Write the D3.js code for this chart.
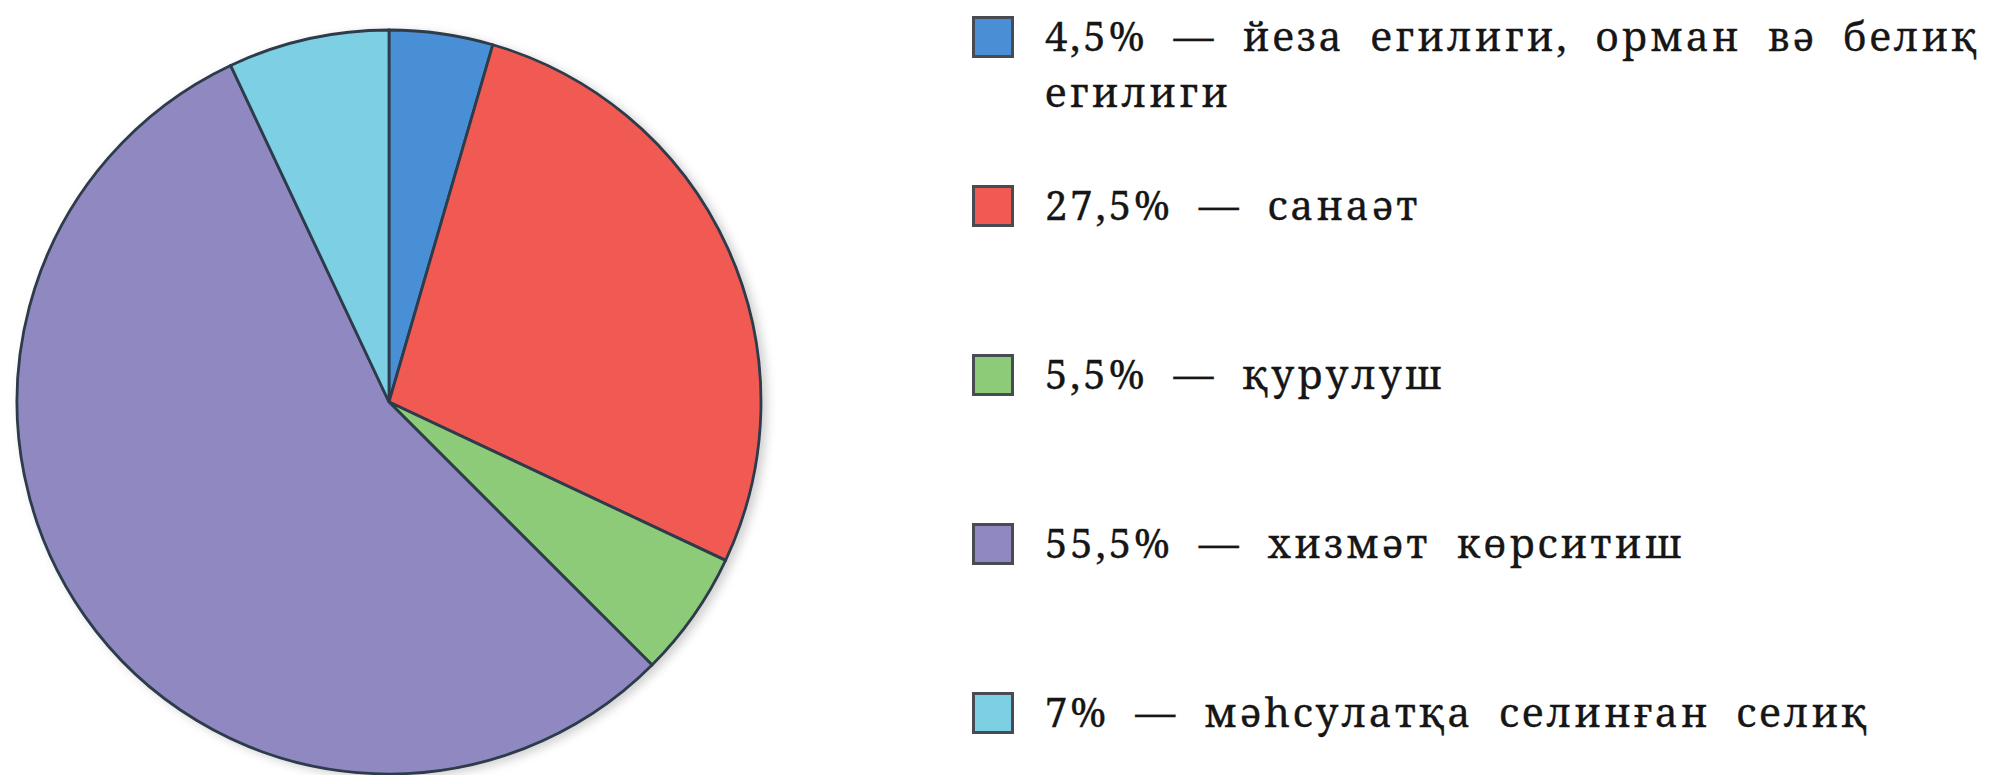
<!DOCTYPE html>
<html>
<head>
<meta charset="utf-8">
<script src="https://cdn.jsdelivr.net/npm/d3@7"></script>
<style>
  html, body { margin: 0; padding: 0; background: #ffffff; }
  svg { display: block; }
</style>
</head>
<body>
<svg id="chart" width="2001" height="775"></svg>
<script>
// Sector shares of the economy, percent
const shares = [4.5, 27.5, 5.5, 55.5, 7];
const shareLabels = ["4,5%", "27,5%", "5,5%", "55,5%", "7%"];
const sectorNames = [
  ["йеза егилиги, орман вә белиқ", "егилиги"],
  ["санаәт"],
  ["қурулуш"],
  ["хизмәт көрситиш"],
  ["мәһсулатқа селинған селиқ"]
];
const sectorColors = ["#4a8fd6", "#f05a52", "#8ecb79", "#8f88c1", "#7dcfe4"];

const svg = d3.select("#chart");
const fontSize = 40, tracking = 3;

// ---- pie ----
const cx = 389, cy = 402, radius = 372;

const defs = svg.append("defs");
const shadow = defs.append("filter").attr("id", "soft-shadow")
  .attr("x", "-10%").attr("y", "-10%").attr("width", "120%").attr("height", "120%");
shadow.append("feDropShadow")
  .attr("dx", 5).attr("dy", 3).attr("stdDeviation", 5)
  .attr("flood-color", "#000").attr("flood-opacity", 0.18);

const pie = d3.pie().sort(null).value(d => d);
const arc = d3.arc().innerRadius(0).outerRadius(radius);
const color = d3.scaleOrdinal().domain(d3.range(shares.length)).range(sectorColors);

const pieG = svg.append("g")
  .attr("transform", `translate(${cx},${cy})`)
  .attr("filter", "url(#soft-shadow)");

pieG.selectAll("path")
  .data(pie(shares))
  .join("path")
  .attr("d", arc)
  .attr("fill", (d, i) => color(i))
  .attr("stroke", "#2d3b4c")
  .attr("stroke-width", 2.8)
  .attr("stroke-linejoin", "round");

// ---- legend ----
const legendX = 972, textX = 1045, firstLineEnd = 1980;
const rowY = d3.scalePoint().domain(d3.range(shares.length)).range([37, 713]);
const lineGap = 56, box = 42;

const legend = svg.append("g").attr("class", "legend");

const rows = legend.selectAll("g.row")
  .data(shares.map((v, i) => i))
  .join("g").attr("class", "row")
  .attr("transform", i => `translate(0,${rowY(i)})`);

rows.append("rect")
  .attr("x", legendX + 1.5)
  .attr("y", -box / 2 + 1.5)
  .attr("width", box - 3)
  .attr("height", box - 3)
  .attr("fill", i => color(i))
  .attr("stroke", "#484c52")
  .attr("stroke-width", 3);

const texts = [];
rows.each(function (i) {
  const g = d3.select(this);
  sectorNames[i].forEach((line, k) => {
    const str = k === 0 ? `${shareLabels[i]} — ${line}` : line;
    const t = g.append("text")
      .attr("x", textX)
      .attr("y", 14 + k * lineGap)
      .attr("font-family", "Noto Serif")
      .attr("font-size", fontSize)
      .attr("letter-spacing", tracking)
      .attr("fill", "#161616")
      .attr("stroke", "#161616")
      .attr("stroke-width", 0.3)
      .text(str);
    texts.push({ node: t.node(), spaces: str.split(" ").length - 1, first: i === 0 && k === 0 });
  });
});

// wide word gaps: stretch the longest line's spaces to fill its width
const lead = texts.find(d => d.first);
const natural = lead.node.getComputedTextLength();
const gap = Math.max(0, (firstLineEnd - textX - natural) / lead.spaces);
texts.forEach(d => d3.select(d.node).attr("word-spacing", gap.toFixed(2)));
</script>
</body>
</html>
